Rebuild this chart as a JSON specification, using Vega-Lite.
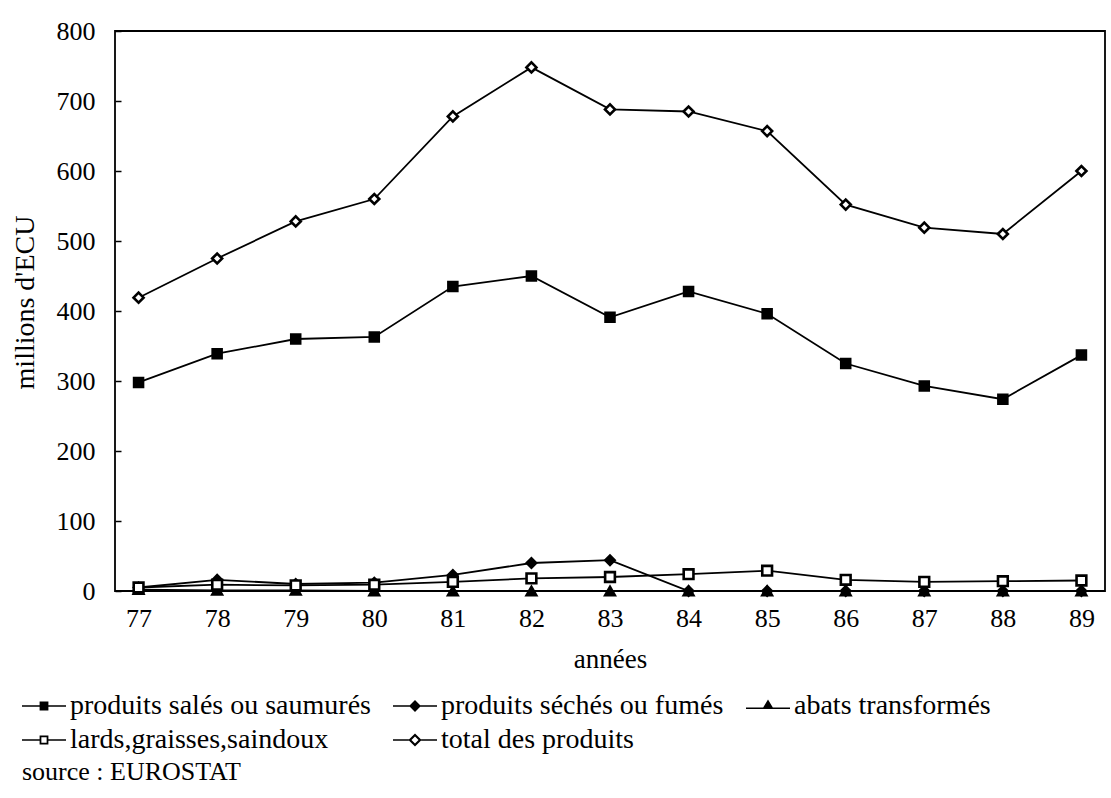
{
  "$schema": "https://vega.github.io/schema/vega-lite/v6.json",
  "width": 990,
  "height": 560,
  "autosize": {"type": "none"},
  "padding": {"left": 115, "top": 31, "right": 6, "bottom": 207},
  "background": "white",
  "config": {
    "view": {"stroke": "black", "strokeWidth": 1.8},
    "font": "Liberation Serif"
  },
  "data": {
    "values": [
      {"annee": "77", "serie": "produits salés ou saumurés", "valeur": 298},
      {"annee": "78", "serie": "produits salés ou saumurés", "valeur": 339},
      {"annee": "79", "serie": "produits salés ou saumurés", "valeur": 360},
      {"annee": "80", "serie": "produits salés ou saumurés", "valeur": 363},
      {"annee": "81", "serie": "produits salés ou saumurés", "valeur": 435},
      {"annee": "82", "serie": "produits salés ou saumurés", "valeur": 450},
      {"annee": "83", "serie": "produits salés ou saumurés", "valeur": 391},
      {"annee": "84", "serie": "produits salés ou saumurés", "valeur": 428},
      {"annee": "85", "serie": "produits salés ou saumurés", "valeur": 396},
      {"annee": "86", "serie": "produits salés ou saumurés", "valeur": 325},
      {"annee": "87", "serie": "produits salés ou saumurés", "valeur": 293},
      {"annee": "88", "serie": "produits salés ou saumurés", "valeur": 274},
      {"annee": "89", "serie": "produits salés ou saumurés", "valeur": 337},
      {"annee": "77", "serie": "produits séchés ou fumés", "valeur": 5},
      {"annee": "78", "serie": "produits séchés ou fumés", "valeur": 16},
      {"annee": "79", "serie": "produits séchés ou fumés", "valeur": 10},
      {"annee": "80", "serie": "produits séchés ou fumés", "valeur": 12},
      {"annee": "81", "serie": "produits séchés ou fumés", "valeur": 23},
      {"annee": "82", "serie": "produits séchés ou fumés", "valeur": 40},
      {"annee": "83", "serie": "produits séchés ou fumés", "valeur": 44},
      {"annee": "84", "serie": "produits séchés ou fumés", "valeur": 0},
      {"annee": "85", "serie": "produits séchés ou fumés", "valeur": 0},
      {"annee": "86", "serie": "produits séchés ou fumés", "valeur": 0},
      {"annee": "87", "serie": "produits séchés ou fumés", "valeur": 0},
      {"annee": "88", "serie": "produits séchés ou fumés", "valeur": 0},
      {"annee": "89", "serie": "produits séchés ou fumés", "valeur": 0},
      {"annee": "77", "serie": "abats transformés", "valeur": 2},
      {"annee": "78", "serie": "abats transformés", "valeur": 1},
      {"annee": "79", "serie": "abats transformés", "valeur": 1},
      {"annee": "80", "serie": "abats transformés", "valeur": 0},
      {"annee": "81", "serie": "abats transformés", "valeur": 0},
      {"annee": "82", "serie": "abats transformés", "valeur": 0},
      {"annee": "83", "serie": "abats transformés", "valeur": 0},
      {"annee": "84", "serie": "abats transformés", "valeur": 0},
      {"annee": "85", "serie": "abats transformés", "valeur": 0},
      {"annee": "86", "serie": "abats transformés", "valeur": 0},
      {"annee": "87", "serie": "abats transformés", "valeur": 0},
      {"annee": "88", "serie": "abats transformés", "valeur": 0},
      {"annee": "89", "serie": "abats transformés", "valeur": 0},
      {"annee": "77", "serie": "lards,graisses,saindoux", "valeur": 5},
      {"annee": "78", "serie": "lards,graisses,saindoux", "valeur": 9},
      {"annee": "79", "serie": "lards,graisses,saindoux", "valeur": 8},
      {"annee": "80", "serie": "lards,graisses,saindoux", "valeur": 9},
      {"annee": "81", "serie": "lards,graisses,saindoux", "valeur": 13},
      {"annee": "82", "serie": "lards,graisses,saindoux", "valeur": 18},
      {"annee": "83", "serie": "lards,graisses,saindoux", "valeur": 20},
      {"annee": "84", "serie": "lards,graisses,saindoux", "valeur": 24},
      {"annee": "85", "serie": "lards,graisses,saindoux", "valeur": 29},
      {"annee": "86", "serie": "lards,graisses,saindoux", "valeur": 16},
      {"annee": "87", "serie": "lards,graisses,saindoux", "valeur": 13},
      {"annee": "88", "serie": "lards,graisses,saindoux", "valeur": 14},
      {"annee": "89", "serie": "lards,graisses,saindoux", "valeur": 15},
      {"annee": "77", "serie": "total des produits", "valeur": 419},
      {"annee": "78", "serie": "total des produits", "valeur": 475},
      {"annee": "79", "serie": "total des produits", "valeur": 528},
      {"annee": "80", "serie": "total des produits", "valeur": 560},
      {"annee": "81", "serie": "total des produits", "valeur": 678},
      {"annee": "82", "serie": "total des produits", "valeur": 748},
      {"annee": "83", "serie": "total des produits", "valeur": 688},
      {"annee": "84", "serie": "total des produits", "valeur": 685},
      {"annee": "85", "serie": "total des produits", "valeur": 657},
      {"annee": "86", "serie": "total des produits", "valeur": 552},
      {"annee": "87", "serie": "total des produits", "valeur": 519},
      {"annee": "88", "serie": "total des produits", "valeur": 510},
      {"annee": "89", "serie": "total des produits", "valeur": 600}
    ]
  },
  "encoding": {
    "x": {
      "field": "annee",
      "type": "ordinal",
      "scale": {"type": "point", "padding": 0.3},
      "axis": {
        "title": "années",
        "labelAngle": 0,
        "ticks": false,
        "domain": false,
        "labelFontSize": 26,
        "labelColor": "black",
        "labelPadding": 14,
        "titleFontSize": 27,
        "titleFontWeight": "normal",
        "titleColor": "black",
        "titleBaseline": "alphabetic",
        "titleY": 76
      }
    },
    "y": {
      "field": "valeur",
      "type": "quantitative",
      "scale": {"domain": [0, 800], "nice": false},
      "axis": {
        "title": "millions d'ECU",
        "values": [0, 100, 200, 300, 400, 500, 600, 700, 800],
        "grid": false,
        "domain": false,
        "tickSize": -6,
        "tickColor": "black",
        "tickWidth": 1.5,
        "labelPadding": 26,
        "labelFontSize": 26,
        "labelColor": "black",
        "titleFontSize": 28,
        "titleFontWeight": "normal",
        "titleColor": "black",
        "titleBaseline": "alphabetic",
        "titleX": -82,
        "titleY": 271
      }
    }
  },
  "layer": [
    {
      "mark": {"type": "line", "color": "black", "strokeWidth": 1.8},
      "encoding": {"detail": {"field": "serie"}}
    },
    {
      "mark": {"type": "point", "filled": true, "stroke": "black", "strokeWidth": 2.6, "opacity": 1},
      "encoding": {
        "shape": {
          "field": "serie",
          "scale": {
            "domain": ["produits salés ou saumurés", "produits séchés ou fumés", "abats transformés", "lards,graisses,saindoux", "total des produits"],
            "range": ["square", "diamond", "triangle-up", "square", "diamond"]
          },
          "legend": null
        },
        "fill": {
          "field": "serie",
          "scale": {
            "domain": ["produits salés ou saumurés", "produits séchés ou fumés", "abats transformés", "lards,graisses,saindoux", "total des produits"],
            "range": ["black", "black", "black", "white", "white"]
          },
          "legend": null
        },
        "size": {
          "field": "serie",
          "scale": {
            "domain": ["produits salés ou saumurés", "produits séchés ou fumés", "abats transformés", "lards,graisses,saindoux", "total des produits"],
            "range": [80, 100, 110, 110, 190]
          },
          "legend": null
        }
      }
    },
    {
      "mark": {"type": "point", "filled": true, "color": "black", "opacity": 0},
      "encoding": {
        "shape": {
          "field": "serie",
          "scale": {
            "domain": ["produits salés ou saumurés", "produits séchés ou fumés", "abats transformés", "lards,graisses,saindoux", "total des produits"],
            "range": [
              "M-1,-0.035H1V0.035H-1ZM-0.2,-0.2H0.2V0.2H-0.2Z",
              "M-1,-0.035H1V0.035H-1ZM-0.27,0L0,-0.27L0.27,0L0,0.27Z",
              "M-1,0.065H1V0.135H-1ZM-0.24,0.1L0,-0.3L0.24,0.1Z",
              "M-1,-0.035H-0.2V0.035H-1ZM0.2,-0.035H1V0.035H0.2ZM-0.2,-0.2H0.2V0.2H-0.2ZM-0.12,-0.12V0.12H0.12V-0.12Z",
              "M-1,-0.035H-0.28V0.035H-1ZM0.28,-0.035H1V0.035H0.28ZM-0.3,0L0,-0.3L0.3,0L0,0.3ZM-0.16,0L0,0.16L0.16,0L0,-0.16Z"
            ]
          },
          "legend": {
            "orient": "none",
            "legendX": -93,
            "legendY": 660,
            "columns": 3,
            "direction": "horizontal",
            "padding": 0,
            "symbolSize": 1936,
            "clipHeight": 30,
            "symbolStrokeWidth": 0,
            "symbolFillColor": "black",
            "symbolOpacity": 1,
            "labelFont": "Liberation Serif",
            "labelFontSize": 28,
            "labelColor": "black",
            "labelOffset": 4,
            "labelLimit": 600,
            "columnPadding": 22,
            "rowPadding": 4,
            "title": "source : EUROSTAT",
            "titleLimit": 600,
            "titleOrient": "bottom",
            "titleAnchor": "start",
            "titleFont": "Liberation Serif",
            "titleFontSize": 26,
            "titleFontWeight": "normal",
            "titleColor": "black",
            "titlePadding": 4
          }
        }
      }
    }
  ],
  "resolve": {"scale": {"shape": "independent"}}
}
